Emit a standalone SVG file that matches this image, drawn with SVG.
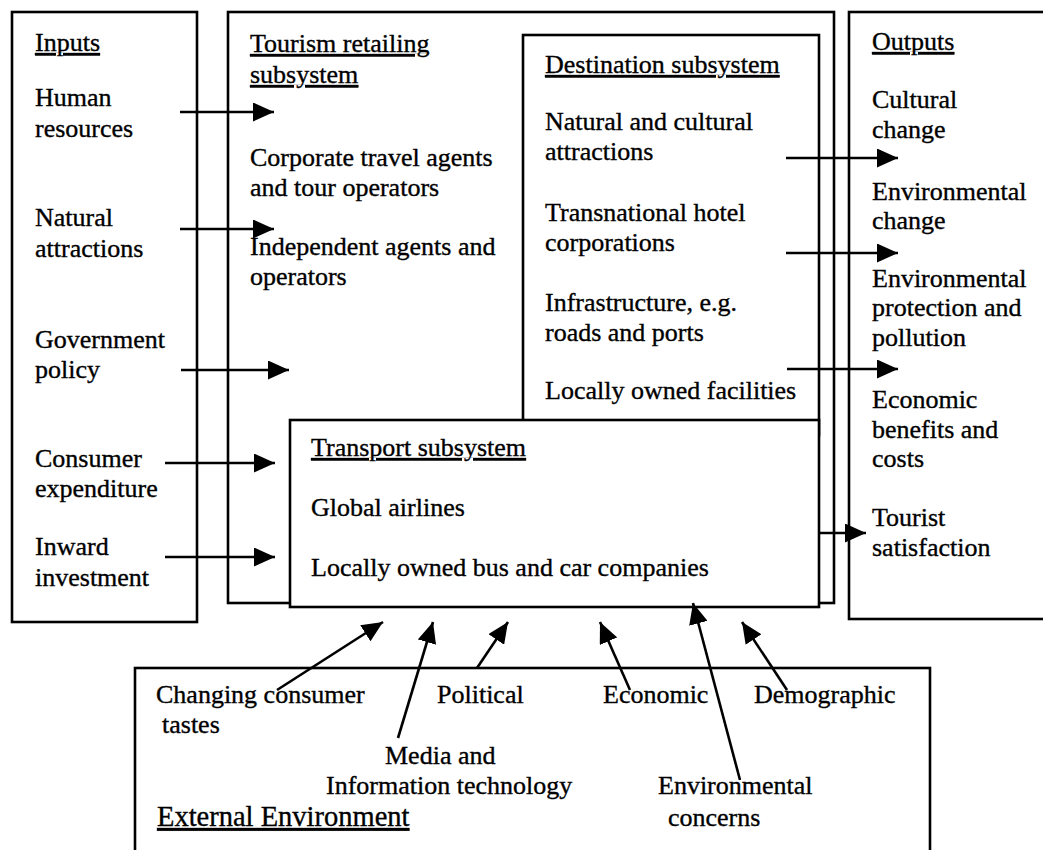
<svg xmlns="http://www.w3.org/2000/svg" width="1043" height="850" viewBox="0 0 1043 850">
  <style>
    .box { fill: #ffffff; stroke: #000000; stroke-width: 2.6; }
    .t { font-family: "Liberation Serif", "Times New Roman", serif; font-size: 26px; fill: #000000; stroke: #000000; stroke-width: 0.35; }
    .h { text-decoration: underline; }
    .big { font-size: 28.5px; }
    .wire { stroke: #000000; stroke-width: 2.6; fill: none; marker-end: url(#head); }
  </style>
  <defs>
    <marker id="head" markerUnits="userSpaceOnUse" markerWidth="21" markerHeight="19" refX="21" refY="9.5" orient="auto">
      <path d="M0,0 L21,9.5 L0,19 z" fill="#000000"/>
    </marker>
  </defs>

  <rect width="1043" height="850" fill="#ffffff"/>

  <!-- Inputs column -->
  <g id="inputs">
    <rect class="box" x="12" y="12" width="185" height="610"/>
    <text class="t h" x="35" y="51">Inputs</text>
    <text class="t" x="35" y="106">Human</text>
    <text class="t" x="35" y="137">resources</text>
    <text class="t" x="35" y="226">Natural</text>
    <text class="t" x="35" y="257">attractions</text>
    <text class="t" x="35" y="348">Government</text>
    <text class="t" x="35" y="378">policy</text>
    <text class="t" x="35" y="467">Consumer</text>
    <text class="t" x="35" y="497">expenditure</text>
    <text class="t" x="35" y="555">Inward</text>
    <text class="t" x="35" y="586">investment</text>
  </g>

  <!-- Tourism retailing subsystem (outer frame) -->
  <g id="retailing">
    <rect class="box" x="228" y="12" width="606" height="591"/>
    <text class="t h" x="250" y="52">Tourism retailing</text>
    <text class="t h" x="250" y="83">subsystem</text>
    <text class="t" x="250" y="166">Corporate travel agents</text>
    <text class="t" x="250" y="196">and tour operators</text>
    <text class="t" x="250" y="255">Independent agents and</text>
    <text class="t" x="250" y="285">operators</text>
  </g>

  <!-- Outputs column -->
  <g id="outputs">
    <rect class="box" x="849" y="12" width="260" height="607"/>
    <text class="t h" x="872" y="50">Outputs</text>
    <text class="t" x="872" y="108">Cultural</text>
    <text class="t" x="872" y="138">change</text>
    <text class="t" x="872" y="200">Environmental</text>
    <text class="t" x="872" y="229">change</text>
    <text class="t" x="872" y="287">Environmental</text>
    <text class="t" x="872" y="316">protection and</text>
    <text class="t" x="872" y="346">pollution</text>
    <text class="t" x="872" y="408">Economic</text>
    <text class="t" x="872" y="438">benefits and</text>
    <text class="t" x="872" y="467">costs</text>
    <text class="t" x="872" y="526">Tourist</text>
    <text class="t" x="872" y="556">satisfaction</text>
  </g>

  <!-- Destination subsystem -->
  <g id="destination">
    <rect class="box" x="523" y="35" width="296" height="400"/>
    <text class="t h" x="545" y="73">Destination subsystem</text>
    <text class="t" x="545" y="130">Natural and cultural</text>
    <text class="t" x="545" y="160">attractions</text>
    <text class="t" x="545" y="221">Transnational hotel</text>
    <text class="t" x="545" y="251">corporations</text>
    <text class="t" x="545" y="311">Infrastructure, e.g.</text>
    <text class="t" x="545" y="341">roads and ports</text>
    <text class="t" x="545" y="399">Locally owned facilities</text>
  </g>

  <!-- Transport subsystem -->
  <g id="transport">
    <rect class="box" x="290" y="420" width="529" height="187"/>
    <text class="t h" x="311" y="456">Transport subsystem</text>
    <text class="t" x="311" y="516">Global airlines</text>
    <text class="t" x="311" y="576">Locally owned bus and car companies</text>
  </g>

  <!-- External environment -->
  <g id="external">
    <rect class="box" x="135" y="668" width="795" height="250"/>
    <text class="t" x="156" y="703">Changing consumer</text>
    <text class="t" x="162" y="733">tastes</text>
    <text class="t" x="437" y="703">Political</text>
    <text class="t" x="603" y="703">Economic</text>
    <text class="t" x="754" y="703">Demographic</text>
    <text class="t" x="385" y="764">Media and</text>
    <text class="t" x="326" y="794">Information technology</text>
    <text class="t" x="658" y="794">Environmental</text>
    <text class="t" x="668" y="826">concerns</text>
    <text class="t h big" x="157" y="826">External Environment</text>
  </g>

  <!-- Connectors -->
  <g id="connectors">
    <line class="wire" x1="180" y1="112" x2="274" y2="112"/>
    <line class="wire" x1="180" y1="229" x2="274" y2="229"/>
    <line class="wire" x1="181" y1="370" x2="289" y2="370"/>
    <line class="wire" x1="165" y1="463" x2="275" y2="463"/>
    <line class="wire" x1="165" y1="557" x2="275" y2="557"/>
    <line class="wire" x1="786" y1="158" x2="898" y2="158"/>
    <line class="wire" x1="786" y1="253" x2="898" y2="253"/>
    <line class="wire" x1="787" y1="369" x2="898" y2="369"/>
    <line class="wire" x1="819" y1="533" x2="866" y2="533"/>
    <line class="wire" x1="277" y1="690" x2="383" y2="622"/>
    <line class="wire" x1="398" y1="738" x2="433" y2="622"/>
    <line class="wire" x1="477" y1="668" x2="508" y2="622"/>
    <line class="wire" x1="630" y1="690" x2="600" y2="622"/>
    <line class="wire" x1="740" y1="780" x2="693" y2="603"/>
    <line class="wire" x1="787" y1="690" x2="742" y2="622"/>
  </g>
</svg>
